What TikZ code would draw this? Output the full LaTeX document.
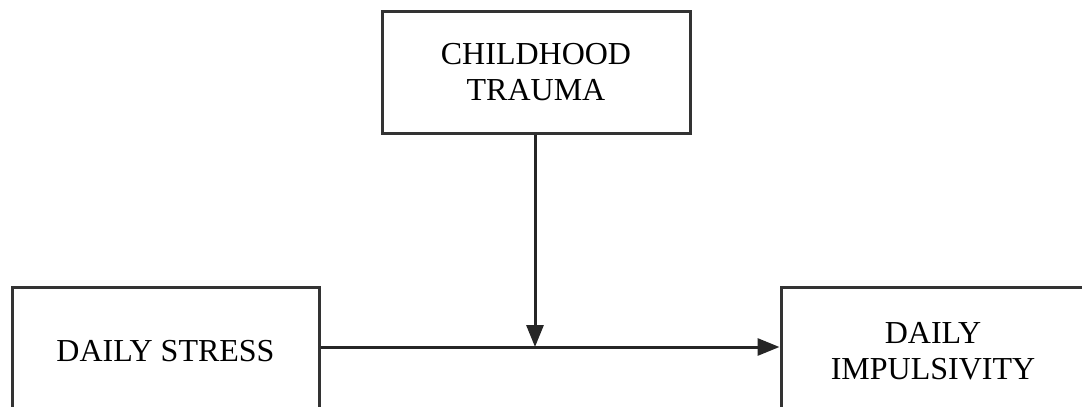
\documentclass[tikz,border=0pt]{standalone}
\usepackage{fontspec}
\setmainfont{Liberation Serif}
\usetikzlibrary{arrows.meta}
\definecolor{edge}{HTML}{333333}
\tikzset{
  box/.style={draw=edge, line width=3pt, fill=white, align=center, inner sep=0pt,
    font=\fontsize{32}{35.5}\selectfont},
  arr/.style={draw=black!85, line width=3pt, -{Triangle[length=22pt,width=17pt]}}
}
\begin{document}
\begin{tikzpicture}[x=1pt,y=-1pt]
\useasboundingbox (0,0) rectangle (1082,407);
\clip (0,0) rectangle (1082,407);
\node[box, minimum width=308pt, minimum height=122pt] (ct) at (536,72) {CHILDHOOD\\TRAUMA};
\node[box, minimum width=307pt, minimum height=128pt] (ds) at (165.5,351) {DAILY STRESS};
\node[box, minimum width=304pt, minimum height=128pt] (di) at (933,351) {DAILY\\IMPULSIVITY};
\coordinate (m) at (535,347);
\draw[arr] (ds.east |- m) -- (di.west |- m);
\draw[arr] (ct.south -| m) -- (m);
\end{tikzpicture}
\end{document}
